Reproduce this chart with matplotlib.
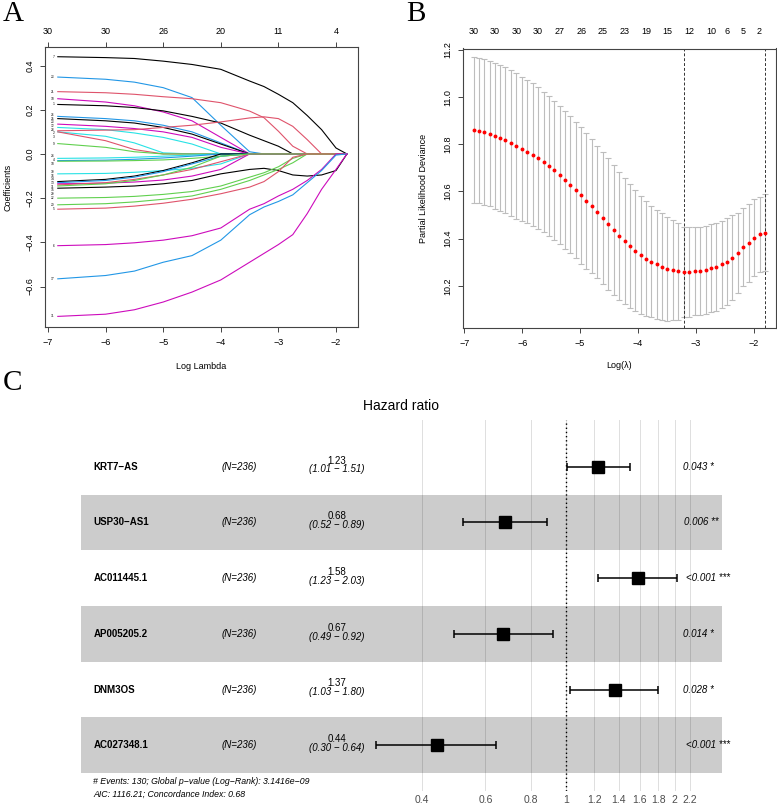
import numpy as np
import matplotlib
matplotlib.use('Agg')
import matplotlib.pyplot as plt
from matplotlib.ticker import NullLocator
from matplotlib.transforms import blended_transform_factory

plt.rcParams['font.family'] = ['Liberation Sans', 'DejaVu Sans']
MINUS = '\u2212'

# ---------------- data: panel A (coefficient paths) ----------------
path_loglambda = [-6.83, -6.0, -5.5, -5.0, -4.5, -4.0, -3.5, -3.25, -3.0, -2.75, -2.5, -2.25, -2.0, -1.81]
K, R, G, B, C, M = '#000000', '#DF536B', '#61D04F', '#2297E6', '#28E2E5', '#CD0BBC'
path_labels = ['7', '23', '21', '10', '1', '26', '25', '23', '12', '28', '2', '3', '9', '24', '4',
               '18', '30', '16', '14', '13', '11', '15', '29', '22', '20', '5', '6', '17', '31']
path_colors = [K, B, R, M, K, B, K, M, C, R, C, R, G, C, B,
               G, C, K, B, M, R, G, K, G, G, R, M, B, M]
coef_paths = [
    [0.44, 0.436, 0.432, 0.42, 0.405, 0.383, 0.33, 0.305, 0.27, 0.232, 0.174, 0.11, 0.027, 0],
    [0.348, 0.338, 0.325, 0.30, 0.255, 0.13, 0.01, 0, 0, 0, 0, 0, 0, 0],
    [0.282, 0.277, 0.27, 0.259, 0.25, 0.232, 0.194, 0.164, 0.103, 0.035, 0, 0, 0, 0],
    [0.25, 0.235, 0.218, 0.19, 0.15, 0.075, 0, 0, 0, 0, 0, 0, 0, 0],
    [0.224, 0.218, 0.21, 0.195, 0.17, 0.14, 0.085, 0.06, 0.035, 0, 0, 0, 0, 0],
    [0.17, 0.16, 0.15, 0.13, 0.10, 0.05, 0, 0, 0, 0, 0, 0, 0, 0],
    [0.16, 0.15, 0.14, 0.12, 0.09, 0.045, 0, 0, 0, 0, 0, 0, 0, 0],
    [0.135, 0.125, 0.115, 0.10, 0.075, 0.03, 0, 0, 0, 0, 0, 0, 0, 0],
    [0.12, 0.11, 0.095, 0.075, 0.045, 0, 0, 0, 0, 0, 0, 0, 0, 0],
    [0.105, 0.108, 0.11, 0.12, 0.13, 0.145, 0.163, 0.168, 0.16, 0.125, 0.065, 0, 0, 0],
    [0.10, 0.08, 0.05, 0.005, 0, 0, 0, 0, 0, 0, 0, 0, 0, 0],
    [0.10, 0.06, 0.02, 0, 0, 0, 0, 0, 0, 0, 0, 0, 0, 0],
    [0.047, 0.03, 0.01, 0, 0, 0, 0, 0, 0, 0, 0, 0, 0, 0],
    [-0.02, -0.018, -0.015, -0.01, -0.005, 0, 0, 0, 0, 0, 0, 0, 0, 0],
    [-0.03, -0.028, -0.024, -0.018, -0.01, 0, 0, 0, 0, 0, 0, 0, 0, 0],
    [-0.033, -0.032, -0.03, -0.027, -0.02, -0.01, 0, 0, 0, 0, 0, 0, 0, 0],
    [-0.09, -0.088, -0.083, -0.075, -0.065, -0.045, 0, 0, 0, 0, 0, 0, 0, 0],
    [-0.125, -0.115, -0.10, -0.075, -0.04, 0, 0, 0, 0, 0, 0, 0, 0, 0],
    [-0.13, -0.12, -0.105, -0.08, -0.045, -0.01, 0, 0, 0, 0, 0, 0, 0, 0],
    [-0.135, -0.132, -0.127, -0.118, -0.10, -0.07, 0, 0, 0, 0, 0, 0, 0, 0],
    [-0.14, -0.13, -0.115, -0.095, -0.07, -0.035, 0, 0, 0, 0, 0, 0, 0, 0],
    [-0.145, -0.135, -0.12, -0.095, -0.06, -0.01, 0, 0, 0, 0, 0, 0, 0, 0],
    [-0.155, -0.15, -0.145, -0.135, -0.12, -0.09, -0.07, -0.065, -0.075, -0.095, -0.10, -0.095, -0.075, 0],
    [-0.20, -0.197, -0.192, -0.183, -0.17, -0.145, -0.105, -0.085, -0.058, -0.02, 0, 0, 0, 0],
    [-0.23, -0.225, -0.217, -0.205, -0.19, -0.16, -0.12, -0.095, -0.07, -0.04, 0, 0, 0, 0],
    [-0.25, -0.245, -0.236, -0.223, -0.205, -0.18, -0.15, -0.125, -0.08, -0.015, 0, 0, 0, 0],
    [-0.415, -0.41, -0.402, -0.39, -0.37, -0.335, -0.25, -0.225, -0.19, -0.16, -0.12, -0.07, 0, 0],
    [-0.565, -0.55, -0.53, -0.49, -0.46, -0.39, -0.275, -0.24, -0.215, -0.185, -0.13, -0.075, -0.005, 0],
    [-0.735, -0.725, -0.705, -0.67, -0.625, -0.57, -0.49, -0.45, -0.41, -0.365, -0.27, -0.16, -0.07, 0],
]
a_top_ticks = [-7, -6, -5, -4, -3, -2]
a_top_labels = ['30', '30', '26', '20', '11', '4']

# ---------------- data: panel B (cross validation) ----------------
cv_loglambda = [-6.84, -6.75, -6.66, -6.56, -6.47, -6.38, -6.29, -6.19, -6.10, -6.00,
                -5.91, -5.82, -5.73, -5.63, -5.54, -5.45, -5.35, -5.26, -5.17, -5.07,
                -4.98, -4.89, -4.79, -4.70, -4.61, -4.51, -4.42, -4.33, -4.23, -4.14,
                -4.05, -3.95, -3.86, -3.77, -3.67, -3.58, -3.49, -3.39, -3.30, -3.21,
                -3.11, -3.02, -2.93, -2.83, -2.74, -2.65, -2.55, -2.46, -2.37, -2.27,
                -2.18, -2.09, -2.00, -1.90, -1.81]
cv_mean = [10.861, 10.858, 10.852, 10.845, 10.836, 10.827, 10.817, 10.805, 10.793, 10.780,
           10.769, 10.756, 10.740, 10.725, 10.708, 10.689, 10.670, 10.650, 10.629, 10.606,
           10.583, 10.559, 10.537, 10.513, 10.489, 10.462, 10.436, 10.412, 10.390, 10.368,
           10.349, 10.330, 10.315, 10.302, 10.291, 10.281, 10.272, 10.267, 10.262, 10.258,
           10.258, 10.261, 10.264, 10.268, 10.274, 10.281, 10.291, 10.302, 10.319, 10.340,
           10.363, 10.382, 10.404, 10.418, 10.425]
cv_sd = [0.308, 0.307, 0.308, 0.308, 0.310, 0.310, 0.310, 0.310, 0.308, 0.307,
         0.304, 0.303, 0.301, 0.298, 0.297, 0.296, 0.294, 0.293, 0.291, 0.290,
         0.289, 0.287, 0.284, 0.280, 0.280, 0.279, 0.276, 0.272, 0.266, 0.262,
         0.255, 0.250, 0.245, 0.236, 0.231, 0.226, 0.221, 0.212, 0.205, 0.192,
         0.190, 0.187, 0.187, 0.187, 0.187, 0.187, 0.185, 0.184, 0.181, 0.170,
         0.165, 0.164, 0.163, 0.160, 0.163]
lambda_min = -3.21
lambda_1se = -1.81
b_top_ticks = [-6.84, -6.47, -6.10, -5.73, -5.35, -4.98, -4.61, -4.23, -3.86, -3.49,
               -3.11, -2.74, -2.46, -2.18, -1.90]
b_top_labels = ['30', '30', '30', '30', '27', '26', '25', '23', '19', '15', '12', '10', '6', '5', '2']

# ---------------- data: panel C (forest plot) ----------------
genes = ['KRT7' + MINUS + 'AS', 'USP30' + MINUS + 'AS1', 'AC011445.1', 'AP005205.2', 'DNM3OS', 'AC027348.1']
n_text = ['(N=236)'] * 6
hr = [1.23, 0.68, 1.58, 0.67, 1.37, 0.44]
hr_low = [1.01, 0.52, 1.23, 0.49, 1.03, 0.30]
hr_high = [1.51, 0.89, 2.03, 0.92, 1.80, 0.64]
p_text = ['0.043 *', '0.006 **', '<0.001 ***', '0.014 *', '0.028 *', '<0.001 ***']
hr_ticks = [0.4, 0.6, 0.8, 1, 1.2, 1.4, 1.6, 1.8, 2, 2.2]
note1 = '# Events: 130; Global p' + MINUS + 'value (Log' + MINUS + 'Rank): 3.1416e' + MINUS + '09'
note2 = 'AIC: 1116.21; Concordance Index: 0.68'

# ---------------- figure ----------------
W, H = 777, 805
fig = plt.figure(figsize=(W / 100, H / 100), dpi=100)


def rect(x0, y0, x1, y1):
    return [x0 / W, 1 - y1 / H, (x1 - x0) / W, (y1 - y0) / H]


def fmt(v, nd=1):
    s = f'{v:.{nd}f}'
    return s.replace('-', MINUS)


def r_style(ax):
    for sp in ax.spines.values():
        sp.set_color('#444444')
        sp.set_linewidth(0.8)
    ax.tick_params(direction='out', length=3.6, width=0.7, color='#444444',
                   labelsize=6.5, pad=4)


def spread_labels(vals, gap):
    # push crowded label positions apart a little (keeps the order)
    order = np.argsort(vals)[::-1]
    y = np.array(vals, dtype=float)[order]
    for _ in range(300):
        moved = False
        for i in range(len(y) - 1):
            d = y[i] - y[i + 1]
            if d < gap:
                shift = (gap - d) / 2
                y[i] += shift
                y[i + 1] -= shift
                moved = True
        if not moved:
            break
    out = np.empty_like(y)
    out[order] = y
    return out


# Panel A
axA = fig.add_axes(rect(45, 47, 358, 327))
label_y = spread_labels([v[0] for v in coef_paths], 0.0165)
for lab, col, vals, ly in zip(path_labels, path_colors, coef_paths, label_y):
    axA.plot(path_loglambda, vals, color=col, lw=0.8)
    axA.text(path_loglambda[0] - 0.06, ly, lab, fontsize=2.3, ha='right', va='center')
axA.set_xlim(-7.052, -1.618)
axA.set_ylim(-0.783, 0.484)
r_style(axA)
axA.set_xticks([-7, -6, -5, -4, -3, -2])
axA.set_xticklabels([fmt(v, 0) for v in [-7, -6, -5, -4, -3, -2]])
yt = [-0.6, -0.4, -0.2, 0.0, 0.2, 0.4]
axA.set_yticks(yt)
axA.set_yticklabels([fmt(v) for v in yt], rotation=90, va='center')
secA = axA.secondary_xaxis('top')
secA.set_xticks(a_top_ticks)
secA.set_xticklabels(a_top_labels)
secA.tick_params(direction='out', length=3.6, width=0.7, color='#444444', labelsize=6.5, pad=4)
secA.spines['top'].set_visible(False)
fig.text(8 / W, 1 - 187 / H, 'Coefficients', rotation=90, fontsize=6.5, ha='center', va='center')
fig.text(201 / W, 1 - 366 / H, 'Log Lambda', fontsize=6.5, ha='center', va='center')

# Panel B
axB = fig.add_axes(rect(462.7, 48.5, 776.3, 328))
axB.errorbar(cv_loglambda, cv_mean, yerr=cv_sd, fmt='none', ecolor='#BDBDBD',
             elinewidth=0.8, capsize=2.2, capthick=0.8, zorder=1)
axB.plot(cv_loglambda, cv_mean, 'o', color='red', ms=2.8, mec='none', zorder=3)
axB.axvline(lambda_min, color='#333333', ls=(0, (3, 2)), lw=0.7)
axB.axvline(lambda_1se, color='#333333', ls=(0, (3, 2)), lw=0.7)
axB.set_xlim(-7.028, -1.61)
axB.set_ylim(10.021, 11.206)
r_style(axB)
axB.set_xticks([-7, -6, -5, -4, -3, -2])
axB.set_xticklabels([fmt(v, 0) for v in [-7, -6, -5, -4, -3, -2]])
ytb = [10.2, 10.4, 10.6, 10.8, 11.0, 11.2]
axB.set_yticks(ytb)
axB.set_yticklabels([fmt(v) for v in ytb], rotation=90, va='center')
secB = axB.secondary_xaxis('top')
secB.set_xticks(b_top_ticks)
secB.set_xticklabels(b_top_labels)
secB.tick_params(length=0, labelsize=6.5, pad=9)
secB.spines['top'].set_visible(False)
fig.text(423 / W, 1 - 188 / H, 'Partial Likelihood Deviance', rotation=90, fontsize=6.5,
         ha='center', va='center')
fig.text(619.5 / W, 1 - 365 / H, 'Log(\u03bb)', fontsize=6.5, ha='center', va='center')

# Panel letters
for letter, x, y in [('A', 13, 14), ('B', 416, 14), ('C', 12, 383)]:
    fig.text(x / W, 1 - y / H, letter, fontsize=21, family=['Liberation Serif', 'DejaVu Serif'],
             ha='center', va='center')

# Panel C
axC = fig.add_axes(rect(80.7, 420, 721.7, 791))
axC.set_xscale('log')
axC.set_xlim(0.04572, 2.6976)
axC.set_ylim(6.822, 0.162)
rows = np.arange(1, len(genes) + 1)
for t in hr_ticks:
    axC.axvline(t, color='#DEDEDE', lw=0.7, zorder=0)
for r in rows:
    if r % 2 == 0:
        axC.axhspan(r - 0.5, r + 0.5, color='black', alpha=0.2, lw=0, zorder=1)
axC.axvline(1, color='black', ls=(0, (1, 2)), lw=1.0, zorder=2)
hr_a = np.array(hr)
axC.errorbar(hr_a, rows, xerr=[hr_a - np.array(hr_low), np.array(hr_high) - hr_a],
             fmt='s', ms=8, color='black', ecolor='black', elinewidth=1.1,
             capsize=3.2, capthick=1.1, zorder=3)
for sp in axC.spines.values():
    sp.set_visible(False)
axC.set_xticks(hr_ticks)
axC.set_xticklabels(['0.4', '0.6', '0.8', '1', '1.2', '1.4', '1.6', '1.8', '2', '2.2'])
axC.xaxis.set_minor_locator(NullLocator())
axC.tick_params(axis='x', length=0, pad=3, labelsize=7.5, labelcolor='#4D4D4D')
axC.set_yticks([])

tr = blended_transform_factory(fig.transFigure, axC.transData)
p_objs = []
for r, g, nt, h, lo, hi, p in zip(rows, genes, n_text, hr, hr_low, hr_high, p_text):
    axC.text(93.3 / W, r, g, transform=tr, fontsize=7, fontweight='bold', ha='left', va='center')
    axC.text(221.7 / W, r, nt, transform=tr, fontsize=7, style='italic', ha='left', va='center')
    axC.text(336.7 / W, r - 0.11, f'{h:.2f}', transform=tr, fontsize=7, ha='center', va='center')
    axC.text(336.7 / W, r + 0.05, f'({lo:.2f} {MINUS} {hi:.2f})', transform=tr, fontsize=7,
             style='italic', ha='center', va='center')
    p_objs.append(axC.text(677 / W, r, p, transform=tr, fontsize=7, style='italic',
                           ha='left', va='center'))

fig.text(401 / W, 1 - 406 / H, 'Hazard ratio', fontsize=10, ha='center', va='center')
fig.text(93.3 / W, 1 - 781 / H, note1, fontsize=6.3, style='italic', ha='left', va='center')
fig.text(93.3 / W, 1 - 794 / H, note2, fontsize=6.3, style='italic', ha='left', va='center')

# ggforest puts p-values with hjust = -0.2
fig.canvas.draw()
rend = fig.canvas.get_renderer()
for t in p_objs:
    w = t.get_window_extent(rend).width
    x, y = t.get_position()
    t.set_position((x + 0.2 * w / fig.bbox.width, y))

fig.savefig('out.png', dpi=100)
